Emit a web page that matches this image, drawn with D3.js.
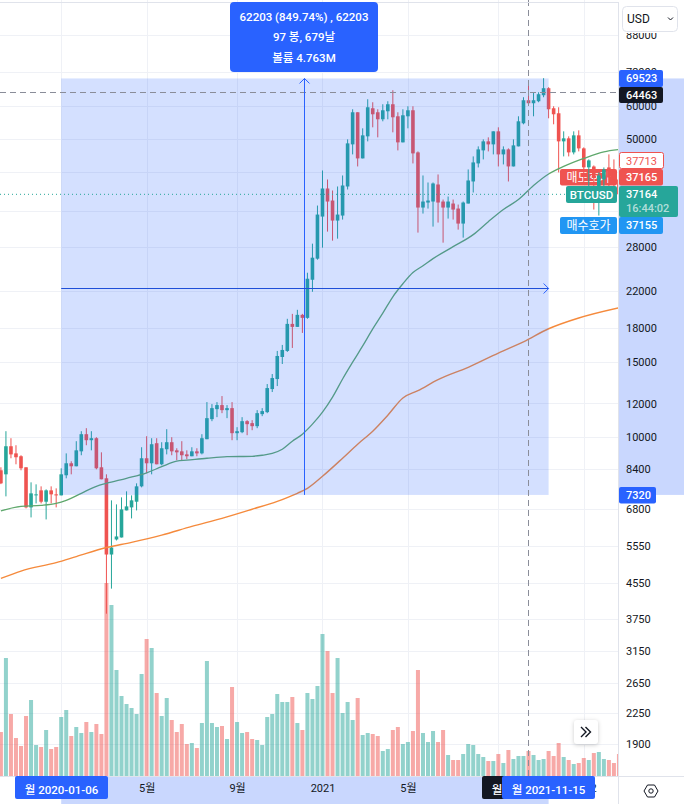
<!DOCTYPE html>
<html>
<head>
<meta charset="utf-8">
<script src="https://cdn.jsdelivr.net/npm/d3@7"></script>
<style>
  body { margin: 0; background: #fff; }
  text { font-family: Roboto, "Noto Sans CJK KR", sans-serif; }
  .tick text { fill: #131722; font-size: 11px; }
  .tick line, .domain { display: none; }
</style>
</head>
<body>
<div id="chart"></div>
<script>
// weekly candles, index 0 = 2020-01-06, index 97 = 2021-11-15
var firstIdx = -12;
var openVals = [8362,8182,9523,9163,9022,8499,6843,7342,7503,7056,7503,7342,
  7302,8140,8685,8545,9264,10164,9839,9946,8499,8008,5304,5754,5816,6732,6843,7056,7667,8924,8685,9680,8638,9370,9733,9315,9264,9113,9022,9264,
  9163,9892,11025,11638,11895,11575,11702,10220,10275,10905,10790,10614,11327,11450,12972,13694,15428,15940,18450,18153,19373,19060,23421,26245,32954,38355,35939,32249,33134,38773,
  48686,57910,45128,50844,59177,57910,55753,58222,60474,56666,49216,56666,58539,46620,34600,35551,35744,39195,35744,34600,35359,34413,31729,35359,39838,43921,47128,49484,48686,52240,
  46117,47384,43213,48161,54558,61800,60803,61466,63498,65953,59177,57597,49484,50296,46620,51120,47641,43000,43200,38148,40272,42980,42056,40272];
var highVals = [8500,10330,9946,9575,9071,8499,7835,7751,7667,7544,7667,7585,
  8453,9163,8780,9787,10330,10500,10330,10000,9215,8182,7108,6955,7224,7463,7302,7793,9472,10054,9946,9946,9733,10443,10000,9420,9787,9315,9472,9420,
  10164,12090,11960,12090,12490,11895,12090,10557,11145,10965,10965,11575,11702,13329,14070,15940,16467,18963,19477,19910,19477,24327,28466,34977,42286,40272,37942,38773,41155,50024,
  58857,57910,53097,62136,61134,58857,60474,61466,65240,57910,58857,59822,59822,46873,41155,39622,39622,41379,36134,36727,36134,35167,35744,42516,45620,48161,50024,50569,52240,53386,
  48161,47641,50024,56666,62815,67400,64537,64537,69627,66312,59822,59498,52240,50844,52240,52524,47900,44884,43450,41830,42980,46117,44884,40500];
var lowVals = [7760,7263,8924,8638,8362,6806,6482,6992,6992,6412,6992,6843,
  7302,8008,8182,8545,9071,9575,9315,8407,7965,3852,4411,5723,5816,6732,6447,6732,7626,8226,8182,8638,8591,9113,9071,8830,8830,8877,9022,9022,
  9113,9892,10905,11145,11388,11085,9839,9839,10220,10109,10386,10500,11205,11388,12765,13185,14854,15855,16200,18153,17570,18963,21946,26103,27857,30382,28933,29248,32424,38148,
  46117,43213,45128,49484,53386,50569,55153,55753,51958,47128,49216,53097,43921,30218,33495,34413,31215,31901,28621,32600,32424,30712,29408,35359,37533,42980,44884,46873,46117,43213,
  43684,39838,43213,48161,54263,60474,56666,61134,62815,56056,54263,41830,45620,45620,46117,46873,39622,36134,34227,33134,37130,38148,38148,36500];
var closeVals = [7793,9523,9113,8973,8453,6843,7382,7342,7056,7503,7342,7302,
  8182,8685,8545,9315,10164,9839,9946,8453,7965,5304,5509,5848,6769,6880,7108,7667,8924,8685,9627,8638,9420,9733,9264,9215,9071,9022,9264,9163,
  9946,11085,11702,11895,11575,11702,10220,10330,10905,10730,10614,11388,11515,13042,13768,15512,16025,18450,18153,19373,19060,23550,26387,33314,38355,35744,32249,33314,38983,48950,
  57910,45128,51120,59498,57286,55753,58539,60474,56361,49216,56976,58539,46368,34600,35744,35939,39408,35551,34600,35744,34227,31729,35551,40054,44160,47384,49484,48686,52240,46117,
  47384,43213,48423,55153,61800,60803,61800,63843,65953,58857,57286,49484,50296,46620,51120,47641,43000,44640,40700,41155,42516,40700,40272,37164];
// relative weekly volume
var volumeVals = [44,118,62,38,30,60,76,31,29,46,27,29,
  59,66,40,49,43,54,44,52,42,193,171,106,80,72,68,62,102,137,128,83,60,78,56,44,52,32,33,28,
  53,115,53,49,50,37,89,54,43,44,37,36,31,59,62,82,74,74,79,53,46,83,77,90,142,125,83,118,63,74,
  56,78,41,43,42,40,25,27,46,49,32,34,45,106,43,34,45,34,46,21,16,16,22,32,31,22,19,15,15,22,
  13,26,17,20,20,25,21,16,17,25,20,33,19,16,12,13,18,16,23,24,17,16,13,22];

// moving averages, read at these candle indexes
var greenIdx = [-12,-8,-4,-1,1,4,7,9,13,17,20,23,25,29,33,38,40,42,44,46,48,50,52,54,56,58,60,62,64,66,68,70,72,74,78,82,85,88,91,94,97,100,104,108,111];
var greenVals = [6715,6880,6917,6992,7108,7384,7667,7792,8008,8250,8525,8785,8830,8925,9000,9020,9071,9163,9370,9785,10164,10730,11450,12421,13695,15000,16375,17960,19550,21360,22915,24350,25265,26250,28008,29890,32060,34240,36130,38980,41490,43213,45120,46760,47350];
var orangeIdx = [-12,-8,-1,3,9,14,20,26,32,38,43,47,49,52,56,59,62,65,68,71,75,81,87,92,97,103,111];
var orangeVals = [4660,4850,5078,5246,5509,5665,5890,6175,6450,6775,7070,7385,7585,8095,8925,9630,10330,11265,12360,12860,13650,14590,15760,16740,17970,19050,20130];

var priceTicks = [88000,72000,60000,50000,42000,34000,28000,22000,18000,15000,12000,10000,8400,6800,5550,4550,3750,3150,2650,2250,1900];
var timeTickIdx = [17,35,52,69,87,104];
var timeTickLabels = ["5월","9월","2021","5월","9월","2022"];

var measureStartIdx = 0, measureEndIdx = 97, measureMidIdx = 48.4;
var measureHigh = 69523, measureLow = 7320, measureMidPrice = 22400;
var crossIdx = 93, crossPrice = 64463;
var lastPrice = 37164;
var tooltipLines = ["62203 (849.74%) , 62203", "97 봉, 679날", "볼륨 4.763M"];

var width = 684, height = 804, plotRight = 618, plotBottom = 776;
var TEAL = "#26a69a", RED = "#ef5350", BLUE = "#2962ff", CROSS = "#8a8d99";

var svg = d3.select("#chart").append("svg").attr("width", width).attr("height", height)
  .style("display", "block");
svg.append("defs").append("clipPath").attr("id", "plotClip")
  .append("rect").attr("width", plotRight).attr("height", plotBottom);

var x = d3.scaleLinear().domain([0, 97]).range([61.2, 548.6]);
var y = d3.scaleLog().domain([1000, 100000]).range([863.2, 11.2]);
var yVol = d3.scaleLinear().domain([0, 200]).range([plotBottom, plotBottom - 200]);

var bars = openVals.map(function(o, i) {
  return {idx: firstIdx + i, o: o, h: highVals[i], l: lowVals[i], c: closeVals[i], v: volumeVals[i]};
});

// small helper for the coloured tags
function tag(parent, xPos, yPos, w, h, fill, lines, opts) {
  opts = opts || {};
  var g = parent.append("g");
  g.append("rect").attr("x", xPos).attr("y", yPos).attr("width", w).attr("height", h)
    .attr("rx", 2).attr("fill", fill).attr("stroke", opts.stroke || "none");
  lines.forEach(function(t, i) {
    g.append("text").attr("x", opts.left ? xPos + opts.left : xPos + w / 2)
      .attr("y", yPos + (opts.top || 8.5) + i * 14).attr("dy", "0.35em")
      .attr("text-anchor", opts.left ? "start" : "middle")
      .attr("fill", opts.color || "#fff").attr("fill-opacity", i > 0 && opts.dim ? 0.65 : 1)
      .attr("font-size", opts.size || 11).attr("font-weight", opts.weight || 500)
      .text(t);
  });
}

var plot = svg.append("g").attr("clip-path", "url(#plotClip)");

// grid
plot.selectAll("line.hgrid").data(priceTicks).enter().append("line")
  .attr("x1", 0).attr("x2", plotRight)
  .attr("y1", function(d) { return Math.round(y(d)) + 0.5; })
  .attr("y2", function(d) { return Math.round(y(d)) + 0.5; })
  .attr("stroke", "#eff1f6");
plot.selectAll("line.vgrid").data([0].concat(timeTickIdx)).enter().append("line")
  .attr("x1", function(d) { return Math.round(x(d)) + 0.5; })
  .attr("x2", function(d) { return Math.round(x(d)) + 0.5; })
  .attr("y1", 0).attr("y2", plotBottom)
  .attr("stroke", "#eff1f6");

// the ask tag sits under the candles
tag(plot, 560, 169, 57, 16.5, RED, ["매도호가"], {size: 12, weight: 400});

// volume
plot.selectAll("rect.vol").data(bars).enter().append("rect")
  .attr("x", function(d) { return x(d.idx) - 2; })
  .attr("width", 4)
  .attr("y", function(d) { return yVol(d.v); })
  .attr("height", function(d) { return plotBottom - yVol(d.v); })
  .attr("fill", function(d) { return d.c >= d.o ? TEAL : RED; })
  .attr("fill-opacity", 0.5);

// candles
plot.selectAll("rect.wick").data(bars).enter().append("rect")
  .attr("x", function(d) { return x(d.idx) - 0.5; })
  .attr("width", 1)
  .attr("y", function(d) { return y(d.h); })
  .attr("height", function(d) { return y(d.l) - y(d.h); })
  .attr("fill", function(d) { return d.c >= d.o ? TEAL : RED; });
plot.selectAll("rect.body").data(bars).enter().append("rect")
  .attr("x", function(d) { return x(d.idx) - 1.8; })
  .attr("width", 3.6)
  .attr("y", function(d) { return y(Math.max(d.o, d.c)); })
  .attr("height", function(d) { return Math.max(1, Math.abs(y(d.o) - y(d.c))); })
  .attr("fill", function(d) { return d.c >= d.o ? TEAL : RED; });

// moving averages
var maLine = d3.line()
  .x(function(d) { return x(d[0]); })
  .y(function(d) { return y(d[1]); })
  .curve(d3.curveMonotoneX);
plot.append("path").attr("d", maLine(d3.zip(greenIdx, greenVals)))
  .attr("fill", "none").attr("stroke", "#5fa86c").attr("stroke-width", 1.3);
plot.append("path").attr("d", maLine(d3.zip(orangeIdx, orangeVals)))
  .attr("fill", "none").attr("stroke", "#f58a3c").attr("stroke-width", 1.4);

// measure box
var mx0 = x(measureStartIdx), mx1 = x(measureEndIdx);
var mxMid = Math.round(x(measureMidIdx)) + 0.5;
var my0 = y(measureHigh), my1 = y(measureLow);
var myMid = Math.round(y(measureMidPrice)) + 0.5;
plot.append("rect").attr("x", mx0).attr("y", my0)
  .attr("width", mx1 - mx0).attr("height", my1 - my0)
  .attr("fill", BLUE).attr("fill-opacity", 0.2);

// price line and crosshair
plot.append("line").attr("x1", 0).attr("x2", plotRight)
  .attr("y1", y(lastPrice)).attr("y2", y(lastPrice))
  .attr("stroke", TEAL).attr("stroke-dasharray", "1 3");
plot.append("line").attr("x1", 0).attr("x2", plotRight)
  .attr("y1", Math.round(y(crossPrice)) + 0.5).attr("y2", Math.round(y(crossPrice)) + 0.5)
  .attr("stroke", CROSS).attr("stroke-dasharray", "6 4");
plot.append("line").attr("x1", Math.round(x(crossIdx)) - 0.5).attr("x2", Math.round(x(crossIdx)) - 0.5)
  .attr("y1", 0).attr("y2", plotBottom)
  .attr("stroke", CROSS).attr("stroke-dasharray", "6 4");

// measure arrows
plot.append("line").attr("x1", mxMid).attr("x2", mxMid).attr("y1", my0).attr("y2", my1)
  .attr("stroke", BLUE).attr("stroke-width", 1);
plot.append("line").attr("x1", mx0).attr("x2", mx1).attr("y1", myMid).attr("y2", myMid)
  .attr("stroke", "#1f4fd8").attr("stroke-width", 1);
plot.append("path")
  .attr("d", "M" + (mxMid - 5) + "," + (my0 + 5) + "L" + mxMid + "," + my0 + "L" + (mxMid + 5) + "," + (my0 + 5))
  .attr("fill", "none").attr("stroke", BLUE);
plot.append("path")
  .attr("d", "M" + (mx1 - 5) + "," + (myMid - 5) + "L" + mx1 + "," + myMid + "L" + (mx1 - 5) + "," + (myMid + 5))
  .attr("fill", "none").attr("stroke", BLUE);

// axis highlight bands
svg.append("rect").attr("x", plotRight + 1).attr("y", my0).attr("width", width - plotRight - 1)
  .attr("height", my1 - my0).attr("fill", "#c9d7fe");
svg.append("rect").attr("x", mx0).attr("y", plotBottom + 1).attr("width", mx1 - mx0)
  .attr("height", height - plotBottom - 1).attr("fill", "#c9d7fe");

// frame
svg.append("line").attr("x1", plotRight + 0.5).attr("x2", plotRight + 0.5).attr("y1", 2).attr("y2", height)
  .attr("stroke", "#e0e3eb");
svg.append("line").attr("x1", 0).attr("x2", width).attr("y1", plotBottom + 0.5).attr("y2", plotBottom + 0.5)
  .attr("stroke", "#e0e3eb");
svg.append("line").attr("x1", 0).attr("x2", plotRight).attr("y1", 2.5).attr("y2", 2.5)
  .attr("stroke", "#e0e3eb");

// axes
svg.append("g").attr("transform", "translate(" + 626 + ",0)")
  .call(d3.axisRight(y).tickValues(priceTicks).tickFormat(d3.format("d")).tickSize(0).tickPadding(0));
svg.append("g").attr("transform", "translate(0," + (plotBottom + 8) + ")")
  .call(d3.axisBottom(x).tickValues(timeTickIdx)
    .tickFormat(function(d, i) { return timeTickLabels[i]; }).tickSize(0).tickPadding(0));

// price axis tags
tag(svg, 619, 70, 44, 17, BLUE, ["69523"], {left: 7});
tag(svg, 619, 87, 44, 16, "#131722", ["64463"], {left: 7});
tag(svg, 619.5, 152.5, 44, 16, "#fff", ["37713"], {stroke: RED, color: RED, weight: 400, left: 6.5});
tag(svg, 619, 169, 44, 16.5, RED, ["37165"], {left: 7});
tag(svg, 619, 186, 59, 31, TEAL, ["37164", "16:44:02"], {dim: true, left: 7});
tag(svg, 619, 217, 44, 17, "#2196f3", ["37155"], {left: 7});
tag(svg, 619, 487, 37, 16.5, BLUE, ["7320"], {left: 7});

// tags left of the axis
tag(svg, 566, 186, 51, 17, TEAL, ["BTCUSD"], {size: 11.5});
tag(svg, 560, 217, 57, 17, "#2196f3", ["매수호가"], {size: 12, weight: 400});

// time axis tags
tag(svg, 482, plotBottom, 93, 23, "#131722", ["월 2021-10-18"], {size: 11.5, top: 14});
tag(svg, 15, plotBottom, 93, 23, BLUE, ["월 2020-01-06"], {size: 11.5, top: 14});
tag(svg, 502, plotBottom, 93, 23, BLUE, ["월 2021-11-15"], {size: 11.5, top: 14});

// measure tooltip
var tip = svg.append("g");
tip.append("rect").attr("x", 230).attr("y", 2).attr("width", 148).attr("height", 70)
  .attr("rx", 4).attr("fill", BLUE);
tooltipLines.forEach(function(t, i) {
  tip.append("text").attr("x", 304).attr("y", 16.5 + i * 20.5).attr("dy", "0.35em")
    .attr("text-anchor", "middle").attr("fill", "#fff")
    .attr("font-size", 11.5).attr("font-weight", 500).text(t);
});

// currency button, it hides the top of the first tick label
var cur = svg.append("g");
cur.append("rect").attr("x", 619).attr("y", 0).attr("width", width - 619).attr("height", 33).attr("fill", "#fff");
cur.append("rect").attr("x", 622.5).attr("y", 6.5).attr("width", 55).attr("height", 25)
  .attr("rx", 4).attr("fill", "#fff").attr("stroke", "#e0e3eb");
cur.append("text").attr("x", 627).attr("y", 19).attr("dy", "0.35em")
  .attr("font-size", 12).attr("fill", "#131722").text("USD");
cur.append("path").attr("d", "M668,17.5l2.5,2.5l2.5,-2.5").attr("fill", "none").attr("stroke", "#131722");

// scroll button
var scrollBtn = svg.append("g");
scrollBtn.append("rect").attr("x", 574).attr("y", 720).attr("width", 24).attr("height", 24)
  .attr("rx", 3).attr("fill", "#fff")
  .style("filter", "drop-shadow(0 1px 2px rgba(0,0,0,0.2))");
scrollBtn.append("path").attr("d", "M581,727l5,5l-5,5M585.5,727l5,5l-5,5")
  .attr("fill", "none").attr("stroke", "#131722").attr("stroke-width", 1.4);

// settings icon
var gear = svg.append("g").attr("transform", "translate(651,791)");
gear.append("path").attr("d", "M-7,0L-3.5,-6L3.5,-6L7,0L3.5,6L-3.5,6Z")
  .attr("fill", "none").attr("stroke", "#131722").attr("stroke-width", 1);
gear.append("circle").attr("r", 2.2).attr("fill", "none").attr("stroke", "#131722");
</script>
</body>
</html>
